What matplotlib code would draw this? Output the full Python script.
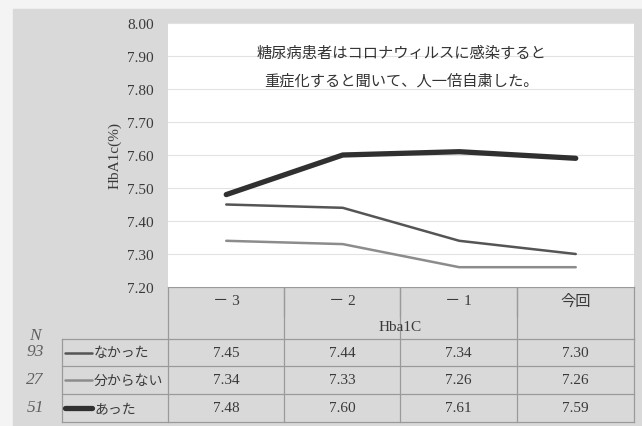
import matplotlib.pyplot as plt

plt.rcParams['font.family'] = ['Liberation Serif', 'Noto Sans CJK JP', 'DejaVu Sans']

periods = ['－ 3', '－ 2', '－ 1', '今回']
groups = ['なかった', '分からない', 'あった']
counts = ['93', '27', '51']
nakatta = [7.45, 7.44, 7.34, 7.30]
wakaranai = [7.34, 7.33, 7.26, 7.26]
atta = [7.48, 7.60, 7.61, 7.59]
yticks = [7.20, 7.30, 7.40, 7.50, 7.60, 7.70, 7.80, 7.90, 8.00]

series = [nakatta, wakaranai, atta]
colors = ['#555555', '#8c8c8c', '#303030']
widths = [1.8, 1.8, 3.8]
txt = '#3a3a3a'

W, H = 642, 427
fig = plt.figure(figsize=(W / 100, H / 100), dpi=100, facecolor='#f4f4f4')

# pixel-space overlay for the panel and the data table
bg = fig.add_axes([0, 0, 1, 1])
bg.set_xlim(0, W)
bg.set_ylim(H, 0)
bg.axis('off')
bg.add_patch(plt.Rectangle((13, 10), W - 13, H - 10, color='#d9d9d9', zorder=0))

# plot area
x0, x1, y0, y1 = 168, 634, 24, 288
ax = fig.add_axes([x0 / W, 1 - y1 / H, (x1 - x0) / W, (y1 - y0) / H])
ax.set_facecolor('white')
xs = range(len(periods))
for vals, c, lw in zip(series, colors, widths):
    ax.plot(xs, vals, color=c, lw=lw, solid_capstyle='round', zorder=3)
ax.set_xlim(-0.5, len(periods) - 0.5)
ax.set_ylim(7.20, 8.00)
ax.set_yticks(yticks)
ax.set_yticklabels([f'{v:.2f}' for v in yticks], fontsize=11, color=txt)
ax.tick_params(axis='y', length=0, pad=10)
ax.set_xticks([])
ax.grid(axis='y', color='#e2e2e2', lw=0.8)
for s in ax.spines.values():
    s.set_visible(False)
ax.set_ylabel('HbA1c(%)', fontsize=11, color=txt, labelpad=4)
ax.text(0.5, 0.89, '糖尿病患者はコロナウィルスに感染すると', transform=ax.transAxes,
        ha='center', va='center', fontsize=11, color='#333333', family='Noto Sans CJK JP')
ax.text(0.5, 0.785, '重症化すると聞いて、人一倍自粛した。', transform=ax.transAxes,
        ha='center', va='center', fontsize=11, color='#333333', family='Noto Sans CJK JP')

# table
lc = '#9a9a9a'
cols = [168, 284, 400, 517, 634]
rows = [340, 367, 395, 423]
bg.plot([168, 634], [288, 288], color=lc, lw=0.9)
for x in cols:
    bg.plot([x, x], [288, 340], color=lc, lw=0.9)
for x in cols[1:-1]:
    bg.plot([x, x], [288, 317], color=lc, lw=0.9)
for y in rows:
    bg.plot([62, 634], [y, y], color=lc, lw=0.9)
for x in [62] + cols:
    bg.plot([x, x], [340, 423], color=lc, lw=0.9)

for i, p in enumerate(periods):
    cx = (cols[i] + cols[i + 1]) / 2
    bg.text(cx, 302, p, ha='center', va='center', fontsize=11, color=txt)
bg.text(400, 328, 'Hba1C', ha='center', va='center', fontsize=11, color=txt)

bg.text(35, 336, 'N', ha='center', va='center', fontsize=12.5, style='italic', color='#606060')
for r, (g, n, vals, c, lw) in enumerate(zip(groups, counts, series, colors, widths)):
    cy = (rows[r] + rows[r + 1]) / 2
    bg.plot([65, 92], [cy, cy], color=c, lw=lw, solid_capstyle='round')
    bg.text(94, cy, g, ha='left', va='center', fontsize=10, color=txt,
            family='Noto Sans CJK JP')
    bg.text(35, cy - 1, n, ha='center', va='center', fontsize=12.5, style='italic',
            color='#606060')
    for i, v in enumerate(vals):
        cx = (cols[i] + cols[i + 1]) / 2
        bg.text(cx, cy, f'{v:.2f}', ha='center', va='center', fontsize=11, color=txt)

fig.savefig('out.png', dpi=100, facecolor=fig.get_facecolor())
